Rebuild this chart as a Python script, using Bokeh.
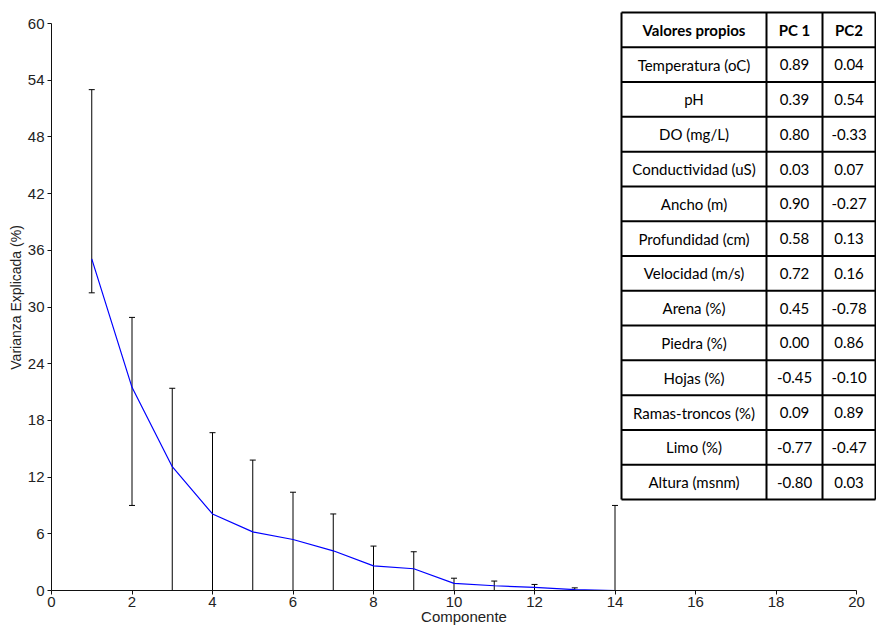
from bokeh.plotting import figure
from bokeh.models import Range1d, FixedTicker, Whisker, ColumnDataSource, TeeHead
from bokeh.embed import file_html
from bokeh.resources import INLINE
from bokeh.core.properties import value

# Explained variance per principal component (%), with error bar limits
componente = [1, 2, 3, 4, 5, 6, 7, 8, 9, 10, 11, 12, 13, 14]
varianza = [35.1, 21.5, 13.1, 8.1, 6.2, 5.4, 4.2, 2.6, 2.3, 0.75, 0.5, 0.33, 0.1, 0.0]
error_sup = [53.0, 28.9, 21.4, 16.7, 13.8, 10.4, 8.1, 4.7, 4.1, 1.3, 1.0, 0.64, 0.28, 9.0]
error_inf = [31.5, 9.0, 0, 0, 0, 0, 0, 0, 0, 0, 0, 0, 0, 0]

# Loadings table
encabezado = ["Valores propios", "PC 1", "PC2"]
variables = ["Temperatura (oC)", "pH", "DO (mg/L)", "Conductividad (uS)", "Ancho (m)",
             "Profundidad (cm)", "Velocidad (m/s)", "Arena (%)", "Piedra (%)", "Hojas (%)",
             "Ramas-troncos (%)", "Limo (%)", "Altura (msnm)"]
pc1 = [0.89, 0.39, 0.80, 0.03, 0.90, 0.58, 0.72, 0.45, 0.00, -0.45, 0.09, -0.77, -0.80]
pc2 = [0.04, 0.54, -0.33, 0.07, -0.27, 0.13, 0.16, -0.78, 0.86, -0.10, 0.89, -0.47, 0.03]

x_ticks = list(range(0, 21, 2))
y_ticks = list(range(0, 61, 6))

W, H = 876, 627
LEFT, BOTTOM = 51, 37
FRAME_W, FRAME_H = W - LEFT, H - BOTTOM
PX_X = 805 / 20.0      # pixels per component unit
PX_Y = 567 / 60.0      # pixels per percent

p = figure(width=W, height=H, output_backend="svg", toolbar_location=None,
           x_range=Range1d(0, FRAME_W / PX_X), y_range=Range1d(0, FRAME_H / PX_Y),
           min_border_left=LEFT, min_border_bottom=BOTTOM, min_border_right=0,
           min_border_top=0)
p.outline_line_color = None
p.xgrid.visible = False
p.ygrid.visible = False
p.background_fill_color = "white"
p.border_fill_color = "white"

axis_font = "Liberation Sans Narrow, Liberation Sans, Arial"
for ax in (p.xaxis[0], p.yaxis[0]):
    ax.axis_line_color = "#111111"
    ax.major_tick_line_color = "#111111"
    ax.major_tick_out = 4
    ax.major_tick_in = 0
    ax.minor_tick_line_color = None
    ax.major_label_text_font = axis_font
    ax.major_label_text_font_size = "15px"
    ax.major_label_text_color = "#222222"
    ax.axis_label_text_font_style = "normal"
    ax.axis_label_text_color = "#222222"

p.xaxis.ticker = FixedTicker(ticks=x_ticks)
p.yaxis.ticker = FixedTicker(ticks=y_ticks)
p.xaxis.bounds = (0, 20)
p.yaxis.bounds = (0, 60)
p.xaxis.major_label_standoff = 2
p.yaxis.major_label_standoff = 3
p.xaxis.axis_label = "Componente"
p.xaxis.axis_label_text_font = axis_font
p.xaxis.axis_label_text_font_size = "15px"
p.xaxis.axis_label_standoff = -2
p.yaxis.axis_label = "Varianza Explicada  (%)"
p.yaxis.axis_label_text_font = "Liberation Sans, Arial"
p.yaxis.axis_label_text_font_size = "14px"
p.yaxis.axis_label_standoff = 1


def dx(px):
    return (px - LEFT) / PX_X


def dy(py):
    return (FRAME_H - py) / PX_Y


src = ColumnDataSource(dict(x=componente, y=varianza, sup=error_sup, inf=error_inf))
p.add_layout(Whisker(source=src, base="x", upper="sup", lower="inf", dimension="height",
                     line_color="black", line_width=1,
                     upper_head=TeeHead(size=6, line_color="black", line_width=1),
                     lower_head=TeeHead(size=6, line_color="black", line_width=1)))
p.line(x="x", y="y", source=src, line_color="#0000FF", line_width=1.2)

# Table layout in pixels, converted to data coordinates
t_left, t_right = 621, 875
col_edges = [t_left, 766, 822, t_right]
t_top, t_bottom = 12, 499
n_rows = len(variables) + 1
row_h = (t_bottom - t_top) / n_rows

p.quad(left=[dx(t_left)], right=[dx(t_right)], top=[dy(t_top)], bottom=[dy(t_bottom)],
       fill_color="white", line_color=None)

xs, ys = [], []
for i in range(n_rows + 1):
    yy = dy(t_top + i * row_h)
    xs.append([dx(t_left), dx(t_right)])
    ys.append([yy, yy])
for c in col_edges:
    xs.append([dx(c), dx(c)])
    ys.append([dy(t_top), dy(t_bottom)])
p.multi_line(xs=xs, ys=ys, line_color="black", line_width=2)

centers = [(col_edges[k] + col_edges[k + 1]) / 2 for k in range(3)]
hx, hy, ht = [], [], []
bx, by, bt = [], [], []
for k, h in enumerate(encabezado):
    hx.append(dx(centers[k]))
    hy.append(dy(t_top + row_h / 2))
    ht.append(h)
for r, name in enumerate(variables):
    yc = dy(t_top + (r + 1.5) * row_h)
    for k, txt in enumerate([name, f"{pc1[r]:.2f}", f"{pc2[r]:.2f}"]):
        bx.append(dx(centers[k]))
        by.append(yc)
        bt.append(txt)

table_font = value("Lato")
p.text(x=hx, y=hy, text=ht, text_font=table_font, text_font_size="15px",
       text_font_style="bold", text_align="center", text_baseline="middle",
       text_color="black")
p.text(x=bx, y=by, text=bt, text_font=table_font, text_font_size="15px",
       text_align="center", text_baseline="middle", text_color="black")

open("out.html", "w").write(file_html(p, INLINE))
